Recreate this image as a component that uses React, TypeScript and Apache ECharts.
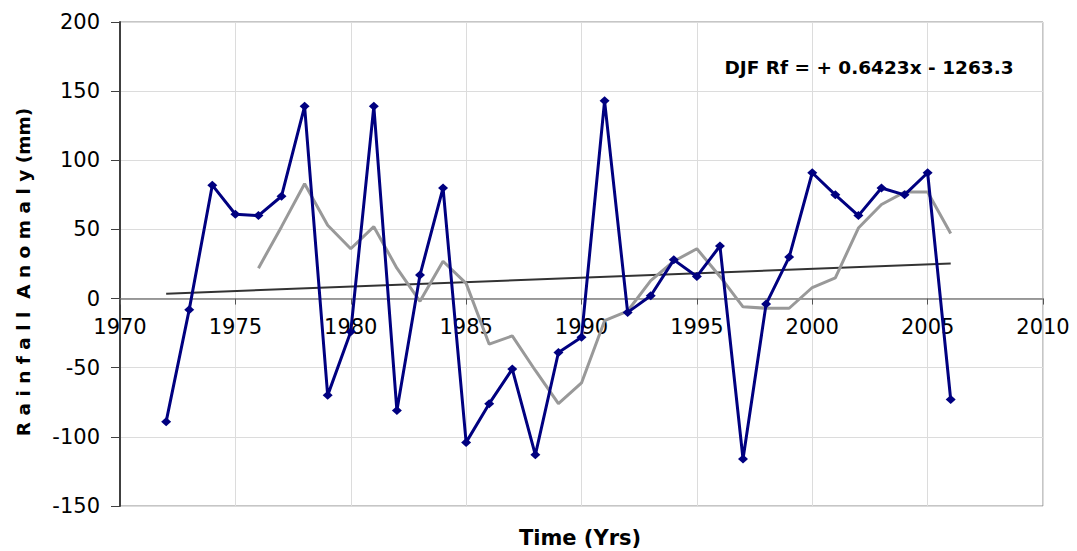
import React, { useEffect, useRef } from "react";
import * as echarts from "echarts";

const years = [1972, 1973, 1974, 1975, 1976, 1977, 1978, 1979, 1980, 1981, 1982, 1983, 1984, 1985, 1986, 1987, 1988, 1989, 1990, 1991, 1992, 1993, 1994, 1995, 1996, 1997, 1998, 1999, 2000, 2001, 2002, 2003, 2004, 2005, 2006];
const rainfall = [-89, -8, 82, 61, 60, 74, 139, -70, -24, 139, -81, 17, 80, -104, -76, -51, -113, -39, -28, 143, -10, 2, 28, 16, 38, -116, -4, 30, 91, 75, 60, 80, 75, 91, -73];

const maYears = [1976, 1977, 1978, 1979, 1980, 1981, 1982, 1983, 1984, 1985, 1986, 1987, 1988, 1989, 1990, 1991, 1992, 1993, 1994, 1995, 1996, 1997, 1998, 1999, 2000, 2001, 2002, 2003, 2004, 2005, 2006];
const movingAvg = [22, 52, 83, 53, 36, 52, 22, -2, 27, 11, -33, -27, -52, -76, -61, -16, -9, 13, 27, 36, 16, -6, -7, -7, 8, 15, 51, 68, 77, 77, 47];

const trendYears = [1972, 2006];
const trendValues = [3.5, 25.3];

const equationText = "DJF Rf = + 0.6423x - 1263.3";
const xTitle = "Time (Yrs)";
const yTitle = "R a i n f a l l  A n o m a l y (mm)";

const FONT = "DejaVu Sans";
const Y_MIN = -150;
const Y_MAX = 200;
const GRID_TOP = 22;
const GRID_BOTTOM = 45;
const CHART_H = 551;

export default function App() {
  const ref = useRef<HTMLDivElement>(null);
  useEffect(() => {
    if (!ref.current) return;
    const chart = echarts.init(ref.current, undefined, { renderer: "svg" });
    const zip = (xs: number[], ys: number[]) => xs.map((x, i) => [x, ys[i]]);
    const plotH = CHART_H - GRID_TOP - GRID_BOTTOM;
    // shift the x axis up so it sits on the y = 0 line
    const zeroOffset = -plotH * (0 - Y_MIN) / (Y_MAX - Y_MIN);
    chart.setOption({
      animation: false,
      backgroundColor: "#ffffff",
      grid: {
        left: 120,
        right: 34,
        top: GRID_TOP,
        bottom: GRID_BOTTOM,
        show: true,
        borderColor: "#8c8c8c",
        borderWidth: 1,
      },
      xAxis: {
        type: "value",
        min: 1970,
        max: 2010,
        interval: 5,
        offset: zeroOffset,
        axisLine: { onZero: false, lineStyle: { color: "#7f7f7f", width: 1.5 } },
        axisTick: { show: true, length: 6, lineStyle: { color: "#555", width: 1 } },
        axisLabel: {
          margin: 18,
          fontFamily: FONT,
          fontSize: 21,
          color: "#000",
          formatter: (v: number) => String(v),
        },
        splitLine: { show: true, lineStyle: { color: "#dcdcdc", width: 1 } },
      },
      yAxis: {
        type: "value",
        min: Y_MIN,
        max: Y_MAX,
        interval: 50,
        axisLine: { show: true, onZero: false, lineStyle: { color: "#404040", width: 2 } },
        axisTick: { show: true, length: 9, lineStyle: { color: "#404040", width: 1 } },
        axisLabel: { margin: 20, fontFamily: FONT, fontSize: 21, color: "#000" },
        splitLine: { show: true, lineStyle: { color: "#dcdcdc", width: 1 } },
      },
      series: [
        {
          type: "line",
          data: zip(trendYears, trendValues),
          showSymbol: false,
          symbol: "none",
          lineStyle: { color: "#333333", width: 2 },
          z: 2,
        },
        {
          type: "line",
          data: zip(maYears, movingAvg),
          showSymbol: false,
          symbol: "none",
          lineStyle: { color: "#999999", width: 3 },
          z: 3,
        },
        {
          type: "line",
          data: zip(years, rainfall),
          symbol: "diamond",
          symbolSize: [10, 9],
          itemStyle: { color: "#000080" },
          lineStyle: { color: "#000080", width: 3 },
          z: 4,
        },
      ],
      graphic: [
        {
          type: "text",
          x: 869,
          y: 67,
          style: {
            text: equationText,
            fontFamily: FONT,
            fontWeight: "bold",
            fontSize: 18.5,
            fill: "#000",
            textAlign: "center",
            textVerticalAlign: "middle",
          },
        },
        {
          type: "text",
          x: 580,
          y: 538,
          style: {
            text: xTitle,
            fontFamily: FONT,
            fontWeight: "bold",
            fontSize: 21,
            fill: "#000",
            textAlign: "center",
            textVerticalAlign: "middle",
          },
        },
        {
          type: "text",
          x: 23,
          y: 272,
          rotation: Math.PI / 2,
          style: {
            text: yTitle,
            fontFamily: FONT,
            fontWeight: "bold",
            fontSize: 18.5,
            fill: "#000",
            textAlign: "center",
            textVerticalAlign: "middle",
          },
        },
      ],
    });
    return () => chart.dispose();
  }, []);
  return (
    <div
      ref={ref}
      style={{ position: "absolute", left: 0, top: 0, width: 1077, height: 551 }}
    />
  );
}
